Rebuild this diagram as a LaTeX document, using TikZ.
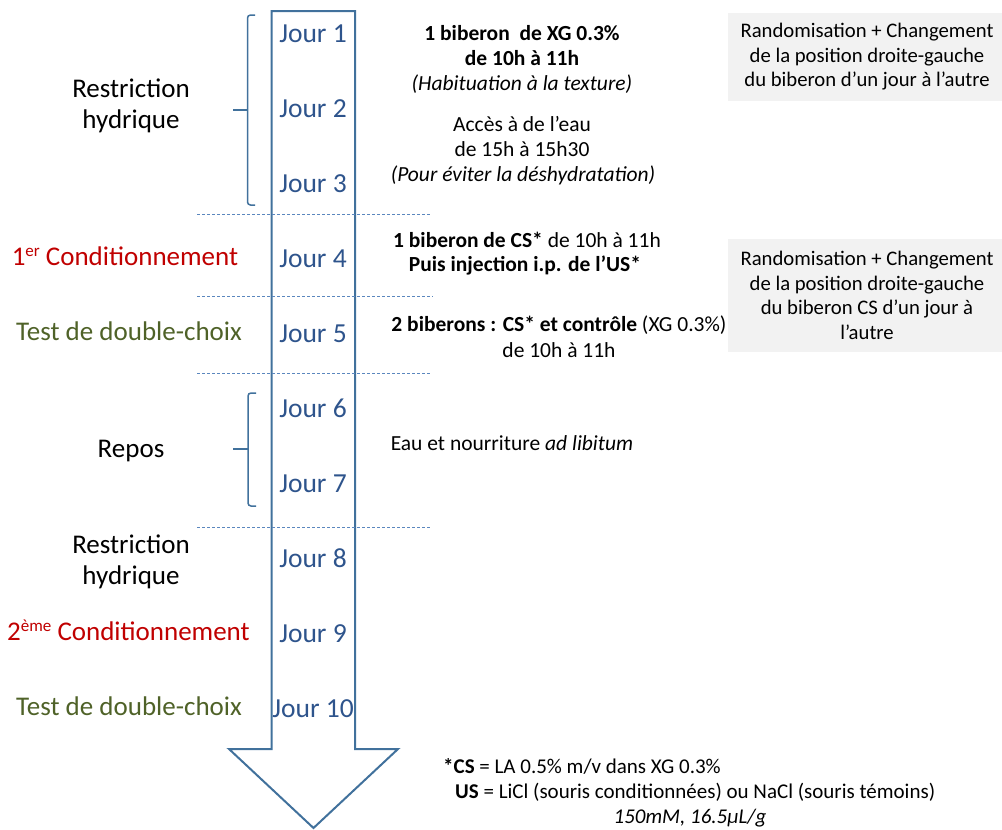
\documentclass[tikz,border=0pt]{standalone}
\usepackage{fontspec}
\setmainfont{Carlito}
\definecolor{arrowblue}{RGB}{65,113,156}
\definecolor{jourblue}{RGB}{46,84,140}
\definecolor{dashblue}{RGB}{91,135,190}
\definecolor{labelred}{RGB}{192,0,0}
\definecolor{labelgreen}{RGB}{79,98,40}
\definecolor{boxgray}{RGB}{242,242,242}
\begin{document}
\begin{tikzpicture}[x=1pt,y=-1pt,
  jour/.style={anchor=base,inner sep=0pt,text=jourblue,font=\fontsize{27.5}{32}\selectfont},
  phase/.style={anchor=base,inner sep=0pt,font=\fontsize{27}{32}\selectfont},
  info/.style={anchor=base,inner sep=0pt,font=\fontsize{21.5}{25}\selectfont},
  note/.style={anchor=base,inner sep=0pt,font=\fontsize{21}{25}\selectfont},
  sepline/.style={draw=dashblue,line width=1pt,dash pattern=on 3pt off 2pt},
  bracket/.style={draw=arrowblue,line width=1.5pt,rounded corners=3pt},
  graybox/.style={fill=boxgray,draw=none,inner sep=0pt,align=center,font=\fontsize{20.7}{24.5}\selectfont,minimum width=274pt}]
\useasboundingbox (0,0) rectangle (1002,830);

% gray boxes
\node[graybox,minimum height=88pt] (box1) at (865,57)
  {\hspace*{4pt}Randomisation + Changement\\\hspace*{4pt}de la position droite-gauche\\\hspace*{4pt}du biberon d’un jour à l’autre};
\node[graybox,minimum height=113pt] (box2) at (865,295.5)
  {\hspace*{4pt}Randomisation + Changement\\\hspace*{4pt}de la position droite-gauche\\\hspace*{4pt}du biberon CS d’un jour à\\\hspace*{4pt}l’autre};

% big arrow
\draw[arrowblue,line width=2pt,line join=miter]
  (271.5,11) -- (355,11) -- (355,749) -- (398,749) -- (313.5,828) -- (229,749) -- (271.5,749) -- cycle;

% dashed separators
\coordinate (s1a) at (197,214); \coordinate (s1b) at (430,214);
\coordinate (s2a) at (197,296); \coordinate (s2b) at (433,296);
\coordinate (s3a) at (197,373); \coordinate (s3b) at (430,373);
\coordinate (s4a) at (197,527); \coordinate (s4b) at (430,527);
\draw[sepline] (s1a) -- (s1b);
\draw[sepline] (s2a) -- (s2b);
\draw[sepline] (s3a) -- (s3b);
\draw[sepline] (s4a) -- (s4b);

% brackets
\draw[bracket] (255,15) -- (247.5,15) -- (247.5,205) -- (255,205);
\draw[draw=arrowblue,line width=1.5pt] (233,110) -- (247.5,110);
\draw[bracket] (256,393) -- (248,393) -- (248,506) -- (256,506);
\draw[draw=arrowblue,line width=1.5pt] (233,449) -- (248,449);

% days
\node[jour] (j1) at (313,42) {Jour 1};
\node[jour] (j2) at (313,117) {Jour 2};
\node[jour] (j3) at (313,192) {Jour 3};
\node[jour] (j4) at (313,267) {Jour 4};
\node[jour] (j5) at (313,342) {Jour 5};
\node[jour] (j6) at (313,417) {Jour 6};
\node[jour] (j7) at (313,492) {Jour 7};
\node[jour] (j8) at (313,567) {Jour 8};
\node[jour] (j9) at (313,642) {Jour 9};
\node[jour] (j10) at (313,717) {Jour 10};

% phases
\node[phase] (p1a) at (131,97) {Restriction};
\node[phase] (p1b) at (131,128) {hydrique};
\node[phase,text=labelred] (p2) at (125,265) {1{\fontsize{17}{20}\selectfont\raisebox{9pt}{er}} Conditionnement};
\node[phase,text=labelgreen] (p3) at (129,340) {Test de double-choix};
\node[phase] (p4) at (131,457) {Repos};
\node[phase] (p5a) at (131,553) {Restriction};
\node[phase] (p5b) at (131,584) {hydrique};
\node[phase,text=labelred] (p6) at (128.5,640) {2{\fontsize{17}{20}\selectfont\raisebox{9pt}{ème}} Conditionnement};
\node[phase,text=labelgreen] (p7) at (129,715) {Test de double-choix};

% descriptions
\node[info] (d1a) at (522,40) {\textbf{1 biberon\ \ de XG 0.3\%}};
\node[info] (d1b) at (522,65) {\textbf{de 10h à 11h}};
\node[info] (d1c) at (522,90) {\textit{(Habituation à la texture)}};
\node[info] (d2a) at (522,131.5) {Accès à de l’eau};
\node[info] (d2b) at (522,156.5) {de 15h à 15h30};
\node[info] (d2c) at (523,181.5) {\textit{(Pour éviter la déshydratation)}};
\node[info] (d3a) at (527,247) {\textbf{1 biberon de CS*} de 10h à 11h};
\node[info] (d3b) at (525,271) {\textbf{Puis injection i.p. de l’US*}};
\node[info] (d4a) at (559,331) {\textbf{2 biberons : CS* et contrôle} (XG 0.3\%)};
\node[info] (d4b) at (559,357) {de 10h à 11h};
\node[info] (d5) at (512,450) {Eau et nourriture \textit{ad libitum}};

% footnote
\node[note,anchor=base west] (f1) at (443,773) {\textbf{*CS} = LA 0.5\% m/v dans XG 0.3\%};
\node[note,anchor=base west] (f2) at (455,798) {\textbf{US} = LiCl (souris conditionnées) ou NaCl (souris témoins)};
\node[note] (f3) at (690,823) {\textit{150mM, 16.5µL/g}};
\end{tikzpicture}
\end{document}
